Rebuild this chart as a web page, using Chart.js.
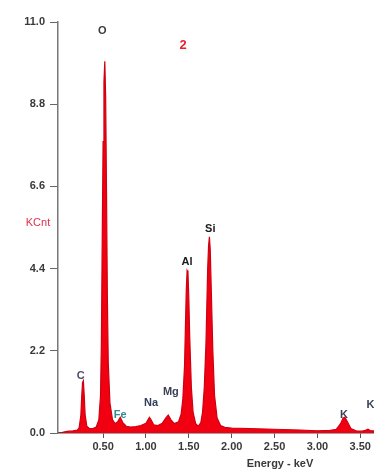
<!DOCTYPE html>
<html>
<head>
<meta charset="utf-8">
<script src="https://cdn.jsdelivr.net/npm/chart.js@4"></script>
<style>
  html, body { margin: 0; padding: 0; background: #ffffff; }
  #wrap { width: 374px; height: 473px; }
</style>
</head>
<body>
<div id="wrap"><canvas id="spectrum" width="374" height="473"></canvas></div>
<script>
// EDS spectrum, energy in keV, counts in KCnt
const energy = [0.00,0.05,0.10,0.15,0.20,0.22,0.24,0.25,0.26,0.27,0.28,0.29,0.31,0.34,0.38,0.42,0.45,0.47,0.48,0.49,
  0.50,0.51,0.52,0.53,0.54,0.55,0.56,0.58,0.61,0.64,0.67,0.70,0.73,0.77,0.82,0.88,0.94,1.00,1.02,1.04,1.06,
  1.09,1.14,1.19,1.23,1.26,1.29,1.33,1.38,1.41,1.43,1.45,1.46,1.47,1.48,1.49,1.50,1.51,1.53,1.55,1.58,
  1.61,1.64,1.66,1.68,1.70,1.71,1.72,1.73,1.74,1.75,1.76,1.78,1.80,1.83,1.87,1.92,2.00,2.20,2.50,2.80,
  3.00,3.15,3.22,3.27,3.30,3.32,3.35,3.39,3.45,3.52,3.56,3.59,3.62,3.70];
const counts = [0.00,0.03,0.05,0.06,0.08,0.14,0.45,0.95,1.35,1.40,1.00,0.50,0.18,0.12,0.12,0.16,0.35,1.00,2.40,5.20,
  7.80,9.40,9.95,9.00,6.40,3.60,1.90,0.80,0.35,0.25,0.30,0.42,0.28,0.18,0.16,0.17,0.20,0.26,0.34,0.42,0.35,
  0.22,0.20,0.26,0.40,0.48,0.36,0.25,0.30,0.50,0.90,1.80,2.80,3.80,4.35,4.30,3.60,2.60,1.20,0.55,0.25,
  0.18,0.28,0.55,1.20,2.40,3.40,4.40,5.00,5.25,4.90,4.00,2.20,1.00,0.40,0.20,0.15,0.13,0.12,0.10,0.08,
  0.06,0.07,0.10,0.25,0.40,0.42,0.30,0.12,0.06,0.05,0.07,0.10,0.06,0.05];

const xTicks = [0.5, 1.0, 1.5, 2.0, 2.5, 3.0, 3.5];
const yTicks = [0.0, 2.2, 4.4, 6.6, 8.8, 11.0];

// element labels: name, energy, counts (label centre), colour
const peakNames  = ['O', 'C', 'Fe', 'Na', 'Mg', 'Al', 'Si', 'K', 'K'];
const peakEnergy = [0.49, 0.24, 0.70, 1.06, 1.29, 1.48, 1.75, 3.31, 3.62];
const peakCounts = [10.75, 1.53, 0.47, 0.80, 1.10, 4.57, 5.45, 0.48, 0.75];
const peakColors = ['#3a3a3a', '#4a4f66', '#2f8a9a', '#34405a', '#3a3f55', '#1a1a1a', '#1a1a1a', '#3a3f55', '#3a3f55'];

const points = energy.map((e, i) => ({ x: e, y: counts[i] }));

const textPlugin = {
  id: 'textPlugin',
  afterDraw(chart) {
    const ctx = chart.ctx;
    const xs = chart.scales.x, ys = chart.scales.y;
    ctx.save();
    ctx.textAlign = 'center';
    ctx.textBaseline = 'middle';
    ctx.font = 'bold 11px "Liberation Sans", Arial, sans-serif';
    peakNames.forEach((n, i) => {
      ctx.fillStyle = peakColors[i];
      ctx.fillText(n, xs.getPixelForValue(peakEnergy[i]), ys.getPixelForValue(peakCounts[i]));
    });
    // spectrum number
    ctx.fillStyle = '#e8202a';
    ctx.font = 'bold 13px "Liberation Sans", Arial, sans-serif';
    ctx.fillText('2', 183, 45);
    // y axis title
    ctx.fillStyle = '#e0304a';
    ctx.font = '11px "Liberation Sans", Arial, sans-serif';
    ctx.fillText('KCnt', 38, 223);
    // x axis title
    ctx.fillStyle = '#3a3a3a';
    ctx.font = 'bold 11px "Liberation Sans", Arial, sans-serif';
    ctx.fillText('Energy - keV', 280, 464);
    ctx.restore();
  }
};

const chart = new Chart(document.getElementById('spectrum'), {
  type: 'scatter',
  data: {
    datasets: [{
      data: points,
      showLine: true,
      fill: 'origin',
      tension: 0,
      pointRadius: 0,
      borderWidth: 1.2,
      borderColor: '#d00010',
      backgroundColor: '#f00010'
    }]
  },
  options: {
    responsive: false,
    animation: false,
    layout: { padding: { top: 22, right: 0, left: 0, bottom: 0 } },
    scales: {
      x: {
        type: 'linear',
        min: -0.026,
        max: 3.66,
        afterBuildTicks: s => { s.ticks = xTicks.map(v => ({ value: v })); },
        afterFit: s => { s.height = 40; },
        border: { color: '#444444', width: 1.5 },
        grid: { drawOnChartArea: false, tickLength: 5, color: '#555555' },
        ticks: {
          color: '#3a3a3a',
          padding: 2,
          font: { family: '"Liberation Sans", Arial, sans-serif', size: 11, weight: 'bold' },
          callback: v => Number(v).toFixed(2),
          maxRotation: 0
        }
      },
      y: {
        min: 0,
        max: 11,
        afterBuildTicks: s => { s.ticks = yTicks.map(v => ({ value: v })); },
        afterFit: s => { s.width = 58; },
        border: { color: '#777777', width: 1.5 },
        grid: { drawOnChartArea: false, tickLength: 8, color: '#666666' },
        ticks: {
          color: '#3a3a3a',
          padding: 5,
          font: { family: '"Liberation Sans", Arial, sans-serif', size: 11, weight: 'bold' },
          callback: v => Number(v).toFixed(1)
        }
      }
    },
    plugins: {
      legend: { display: false },
      tooltip: { enabled: false }
    }
  },
  plugins: [textPlugin]
});
</script>
</body>
</html>
